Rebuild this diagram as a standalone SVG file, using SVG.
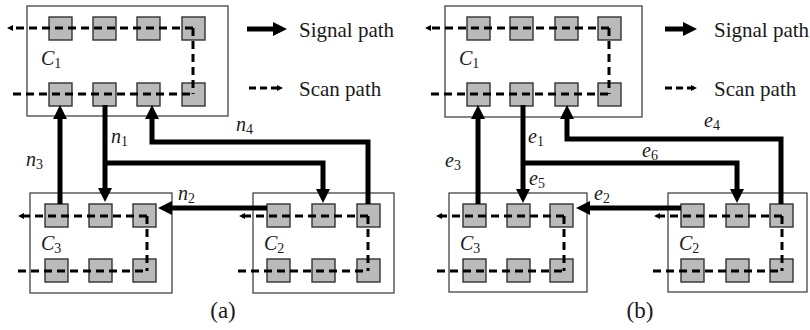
<svg xmlns="http://www.w3.org/2000/svg" width="810" height="330" viewBox="0 0 810 330" font-family="'Liberation Serif', 'Times New Roman', 'DejaVu Serif', serif">
<style>
.box{fill:#fff;stroke:#444;stroke-width:1.3}
.cell{fill:#bababa;stroke:#333;stroke-width:1.4}
.scan{fill:none;stroke:#000;stroke-width:3;stroke-dasharray:8 5}
.sig{fill:none;stroke:#000;stroke-width:5;marker-end:url(#ah)}
.sa{marker-end:url(#sh)}
text{font-family:'Liberation Serif','Times New Roman','DejaVu Serif',serif;fill:#1a1a1a}
.lbl{font-size:21px}
.it{font-size:20px;font-style:italic}
.sub{font-size:14px;font-style:normal}
.cap{font-size:23px;text-anchor:middle}
</style>
<defs>
<marker id="ah" markerUnits="userSpaceOnUse" markerWidth="16" markerHeight="16" refX="2" refY="7.5" orient="auto"><path d="M0,0.5 L14,7.5 L0,14.5 z" fill="#000"/></marker>
<marker id="sh" markerUnits="userSpaceOnUse" markerWidth="8" markerHeight="8" refX="1" refY="4" orient="auto"><path d="M0,1 L6,4 L0,7 z" fill="#000"/></marker>
</defs>

<!-- Panel (a) -->
<g id="C1a">
<rect class="box" x="27" y="6" width="201" height="110"/>
<rect class="cell" x="49" y="17" width="23" height="23"/><rect class="cell" x="93" y="17" width="23" height="23"/><rect class="cell" x="137" y="17" width="23" height="23"/><rect class="cell" x="182" y="17" width="23" height="23"/>
<rect class="cell" x="49" y="83" width="23" height="23"/><rect class="cell" x="93" y="83" width="23" height="23"/><rect class="cell" x="137" y="83" width="23" height="23"/><rect class="cell" x="182" y="83" width="23" height="23"/>
<path class="scan sa" d="M193,28 H12"/><path class="scan" d="M193,28 V94"/><path class="scan" d="M13,94 H193"/>
<text class="it" x="41" y="65">C<tspan class="sub" dy="3">1</tspan></text>
</g>
<g id="C3a">
<rect class="box" x="30" y="193" width="142" height="100"/>
<rect class="cell" x="45" y="204" width="23" height="23"/><rect class="cell" x="89" y="204" width="23" height="23"/><rect class="cell" x="133" y="204" width="23" height="23"/>
<rect class="cell" x="45" y="259" width="23" height="23"/><rect class="cell" x="89" y="259" width="23" height="23"/><rect class="cell" x="133" y="259" width="23" height="23"/>
<path class="scan sa" d="M147,216 H23"/><path class="scan" d="M147,216 V271"/><path class="scan" d="M18,271 H147"/>
<text class="it" x="41" y="250">C<tspan class="sub" dy="3">3</tspan></text>
</g>
<g id="C2a">
<rect class="box" x="253" y="193" width="141" height="100"/>
<rect class="cell" x="267" y="204" width="23" height="23"/><rect class="cell" x="312" y="204" width="23" height="23"/><rect class="cell" x="357" y="204" width="23" height="23"/>
<rect class="cell" x="267" y="259" width="23" height="23"/><rect class="cell" x="312" y="259" width="23" height="23"/><rect class="cell" x="357" y="259" width="23" height="23"/>
<path class="scan sa" d="M368,216 H244"/><path class="scan" d="M368,216 V271"/><path class="scan" d="M238,271 H368"/>
<text class="it" x="264" y="250">C<tspan class="sub" dy="3">2</tspan></text>
</g>
<g id="legend-a">
<path class="sig" d="M247,29 H275"/>
<text class="lbl" x="299" y="37">Signal path</text>
<path class="scan sa" d="M249,88 H278" style="stroke-dasharray:7 4"/>
<text class="lbl" x="299" y="96">Scan path</text>
</g>
<g id="connectors-a">
<path class="sig" d="M60,204 V117"/>
<path class="sig" d="M105,105 V190"/>
<path class="sig" d="M105,163 H323 V191"/>
<path class="sig" d="M368,204 V142 H152 V117"/>
<path class="sig" d="M267,208 H170"/>
<text class="it" x="111" y="143">n<tspan class="sub" dy="3">1</tspan></text>
<text class="it" x="236" y="131">n<tspan class="sub" dy="3">4</tspan></text>
<text class="it" x="26" y="166">n<tspan class="sub" dy="3">3</tspan></text>
<text class="it" x="178" y="200">n<tspan class="sub" dy="3">2</tspan></text>
</g>
<text class="cap" x="223" y="318">(a)</text>

<!-- Panel (b) -->
<g id="C1b">
<rect class="box" x="445" y="6" width="197" height="111"/>
<rect class="cell" x="467" y="17" width="23" height="23"/><rect class="cell" x="510" y="17" width="23" height="23"/><rect class="cell" x="555" y="17" width="23" height="23"/><rect class="cell" x="598" y="17" width="23" height="23"/>
<rect class="cell" x="467" y="83" width="23" height="23"/><rect class="cell" x="510" y="83" width="23" height="23"/><rect class="cell" x="555" y="83" width="23" height="23"/><rect class="cell" x="598" y="83" width="23" height="23"/>
<path class="scan sa" d="M609,28 H430"/><path class="scan" d="M609,28 V94"/><path class="scan" d="M431,94 H609"/>
<text class="it" x="459" y="65">C<tspan class="sub" dy="3">1</tspan></text>
</g>
<g id="C3b">
<rect class="box" x="449" y="193" width="138" height="99"/>
<rect class="cell" x="463" y="204" width="23" height="23"/><rect class="cell" x="507" y="204" width="23" height="23"/><rect class="cell" x="550" y="204" width="23" height="23"/>
<rect class="cell" x="463" y="259" width="23" height="23"/><rect class="cell" x="507" y="259" width="23" height="23"/><rect class="cell" x="550" y="259" width="23" height="23"/>
<path class="scan sa" d="M564,216 H441"/><path class="scan" d="M564,216 V271"/><path class="scan" d="M437,271 H564"/>
<text class="it" x="460" y="250">C<tspan class="sub" dy="3">3</tspan></text>
</g>
<g id="C2b">
<rect class="box" x="668" y="193" width="139" height="99"/>
<rect class="cell" x="681" y="204" width="23" height="23"/><rect class="cell" x="726" y="204" width="23" height="23"/><rect class="cell" x="770" y="204" width="23" height="23"/>
<rect class="cell" x="681" y="259" width="23" height="23"/><rect class="cell" x="726" y="259" width="23" height="23"/><rect class="cell" x="770" y="259" width="23" height="23"/>
<path class="scan sa" d="M782,216 H659"/><path class="scan" d="M782,216 V271"/><path class="scan" d="M653,271 H782"/>
<text class="it" x="679" y="250">C<tspan class="sub" dy="3">2</tspan></text>
</g>
<g id="legend-b">
<path class="sig" d="M665,29 H685"/>
<text class="lbl" x="714" y="37">Signal path</text>
<path class="scan sa" d="M665,88 H692" style="stroke-dasharray:7 4"/>
<text class="lbl" x="714" y="96">Scan path</text>
</g>
<g id="connectors-b">
<path class="sig" d="M478,204 V117"/>
<path class="sig" d="M523,105 V191"/>
<path class="sig" d="M523,163 H737 V191"/>
<path class="sig" d="M781,204 V139 H567 V117"/>
<path class="sig" d="M681,208 H588"/>
<text class="it" x="528" y="143">e<tspan class="sub" dy="3">1</tspan></text>
<text class="it" x="529" y="185">e<tspan class="sub" dy="3">5</tspan></text>
<text class="it" x="445" y="167">e<tspan class="sub" dy="3">3</tspan></text>
<text class="it" x="704" y="127">e<tspan class="sub" dy="3">4</tspan></text>
<text class="it" x="642" y="157">e<tspan class="sub" dy="3">6</tspan></text>
<text class="it" x="594" y="200">e<tspan class="sub" dy="3">2</tspan></text>
</g>
<text class="cap" x="640" y="318">(b)</text>
</svg>
